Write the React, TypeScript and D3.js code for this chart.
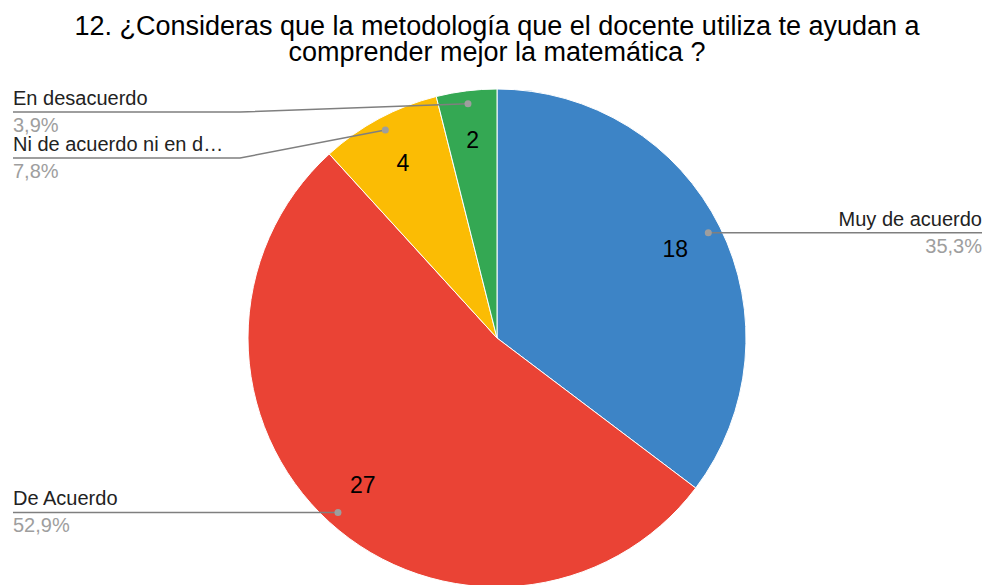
import React from "react";
import * as d3 from "d3";

const categories = ["Muy de acuerdo", "De Acuerdo", "Ni de acuerdo ni en d…", "En desacuerdo"];
const values = [18, 27, 4, 2];
const percentLabels = ["35,3%", "52,9%", "7,8%", "3,9%"];
const colors = ["#3d84c6", "#ea4335", "#fbbc04", "#34a853"];
const titleLines = [
  "12. ¿Consideras que la metodología que el docente utiliza te ayudan a",
  "comprender mejor la matemática ?",
];

const W = 989;
const H = 585;
const cx = 497;
const cy = 338;
const R = 249;
// label line y for each slice (null => horizontal from dot)
const labelLineY: (number | null)[] = [null, null, 158, 112];
const labelSide = ["right", "left", "left", "left"];

export default function App() {
  const pie = d3.pie<number>().sort(null).value((d) => d);
  const arcs = pie(values);
  const arcGen = d3.arc<d3.PieArcDatum<number>>().innerRadius(0).outerRadius(R);
  const font = "'Liberation Sans', Arial, sans-serif";

  return (
    <svg width={W} height={H} style={{ position: "absolute", left: 0, top: 0, background: "#fff" }} fontFamily={font}>
      <rect width={W} height={H} fill="#fff" />
      {titleLines.map((t, i) => (
        <text key={i} x={497} y={35 + i * 26} textAnchor="middle" fontSize={27} fill="#000">
          {t}
        </text>
      ))}
      <g transform={`translate(${cx},${cy})`}>
        {arcs.map((a, i) => (
          <path key={i} d={arcGen(a) || ""} fill={colors[i]} stroke="#fff" strokeWidth={1} />
        ))}
        {arcs.map((a, i) => {
          const mid = (a.startAngle + a.endAngle) / 2;
          const r = R * 0.8;
          return (
            <text key={"v" + i} x={Math.sin(mid) * r} y={-Math.cos(mid) * r} textAnchor="middle" dominantBaseline="central" fontSize={23} fill="#000">
              {values[i]}
            </text>
          );
        })}
      </g>
      {arcs.map((a, i) => {
        const mid = (a.startAngle + a.endAngle) / 2;
        const r = R * 0.948;
        const dx = cx + Math.sin(mid) * r;
        const dy = cy - Math.cos(mid) * r;
        const ly = labelLineY[i] ?? dy;
        const right = labelSide[i] === "right";
        const endX = right ? 982 : 13;
        const elbowX = right ? dx : 240;
        const tx = right ? 982 : 13;
        const anchor = right ? "end" : "start";
        return (
          <g key={"l" + i}>
            <polyline points={`${dx},${dy} ${elbowX},${ly} ${endX},${ly}`} fill="none" stroke="#7f7f7f" strokeWidth={1.5} />
            <circle cx={dx} cy={dy} r={3.5} fill="#9e9e9e" />
            <text x={tx} y={ly - 7} textAnchor={anchor} fontSize={20} fill="#222">
              {categories[i]}
            </text>
            <text x={tx} y={ly + 20} textAnchor={anchor} fontSize={20} fill="#9e9e9e">
              {percentLabels[i]}
            </text>
          </g>
        );
      })}
    </svg>
  );
}
